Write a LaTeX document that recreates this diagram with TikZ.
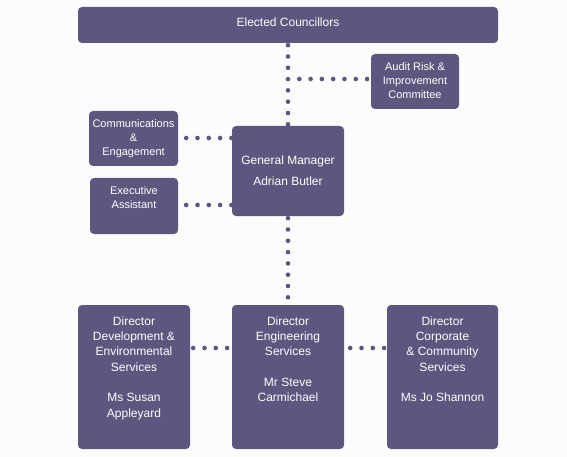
\documentclass[tikz,border=0pt]{standalone}
\usepackage{fontspec}
\setmainfont{Liberation Sans}
\definecolor{boxc}{RGB}{91,87,126}
\definecolor{bgc}{RGB}{252,252,253}
\begin{document}
\begin{tikzpicture}[x=1pt,y=-1pt,
  box/.style={draw=none,fill=boxc,rounded corners=4pt,inner sep=0pt},
  txt/.style={text=white,align=center,inner sep=0pt,font=\fontsize{12}{15.3}\selectfont},
  stxt/.style={text=white,align=center,inner sep=0pt,font=\fontsize{11}{14}\selectfont},
  dots/.style={draw=boxc,line width=4.6pt,line cap=round,dash pattern=on 0pt off 11.3pt}]
\useasboundingbox[fill=bgc] (0,0) rectangle (567,457);
% boxes
\node[box,minimum width=420pt,minimum height=36pt] (ec) at (288,25) {};
\node[box,minimum width=88pt,minimum height=55pt] (audit) at (415,81.5) {};
\node[box,minimum width=89pt,minimum height=55pt] (comm) at (133.5,138.5) {};
\node[box,minimum width=112pt,minimum height=90pt] (gm) at (288,171) {};
\node[box,minimum width=88pt,minimum height=56pt] (exec) at (134,206) {};
\node[box,minimum width=112pt,minimum height=144pt] (d1) at (134,377) {};
\node[box,minimum width=112pt,minimum height=144pt] (d2) at (288,377) {};
\node[box,minimum width=111pt,minimum height=144pt] (d3) at (442.5,377) {};
% connectors
\coordinate (j1) at (288,79);
\draw[dots,shorten <=2pt,shorten >=0pt] (ec.south) -- (gm.north);
\draw[dots,shorten <=11.3pt,shorten >=0pt] (j1) -- (audit.west |- j1);
\draw[dots,shorten <=8pt,shorten >=0pt] (comm.east |- 0,138) -- (gm.west |- 0,138);
\draw[dots,shorten <=8pt,shorten >=0pt] (exec.east |- 0,205) -- (gm.west |- 0,205);
\draw[dots,shorten <=2pt,shorten >=0pt] (gm.south) -- (d2.north);
\draw[dots,shorten <=3pt,shorten >=0pt] (d1.east |- 0,348) -- (d2.west |- 0,348);
\draw[dots,shorten <=6pt,shorten >=0pt] (d2.east |- 0,348) -- (d3.west |- 0,348);
% texts
\node[txt,font=\fontsize{12}{15}\selectfont] (tec) at (288,22) {Elected Councillors};
\node[stxt] (taudit) at (415,80.5) {Audit Risk \&\\Improvement\\Committee};
\node[stxt] (tcomm) at (133.5,139) {Communications\\\&\\Engagement};
\node[txt,font=\fontsize{12}{21}\selectfont] (tgm) at (288,170.5) {General Manager\\Adrian Butler};
\node[stxt] (texec) at (134,198) {Executive\\Assistant};
\node[txt,anchor=north] (td1) at (134,316.5) {Director\\Development \&\\Environmental\\Services\\[15.3pt]Ms Susan\\Appleyard};
\node[txt,anchor=north] (td2) at (288,316.5) {Director\\Engineering\\Services\\[15.3pt]Mr Steve\\Carmichael};
\node[txt,anchor=north] (td3) at (442.5,316.5) {Director\\Corporate\\\& Community\\Services\\[15.3pt]Ms Jo Shannon};
\end{tikzpicture}
\end{document}
